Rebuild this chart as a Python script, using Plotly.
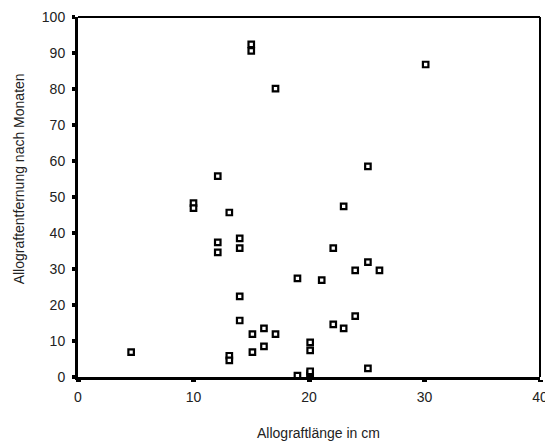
import plotly.graph_objects as go

# Allograft length (cm)
laenge = [4.6, 10.0, 10.0, 12.1, 12.1, 12.1, 13.1, 13.1, 13.1, 14.0, 14.0, 14.0, 14.0,
          15.0, 15.0, 15.1, 15.1, 16.1, 16.1, 17.1, 17.1, 19.0, 19.0,
          20.1, 20.1, 20.1, 20.1, 20.1, 21.1, 22.1, 22.1, 23.0, 23.0,
          24.0, 24.0, 25.1, 25.1, 25.1, 26.1, 30.1]
# Allograft removal after months
entfernung = [6.9, 48.3, 46.9, 55.8, 37.4, 34.6, 45.7, 5.9, 4.6, 38.5, 35.8, 22.4, 15.7,
              92.4, 90.6, 11.9, 6.9, 13.5, 8.5, 80.1, 11.9, 27.4, 0.4,
              9.6, 7.4, 0.4, 1.0, 1.6, 26.9, 35.8, 14.6, 47.4, 13.5,
              29.6, 16.9, 58.5, 31.9, 2.4, 29.6, 86.8]

x_ticks = [0, 10, 20, 30, 40]
y_ticks = [0, 10, 20, 30, 40, 50, 60, 70, 80, 90, 100]

FONT = "Liberation Sans, Arial, sans-serif"

fig = go.Figure(go.Scatter(
    x=laenge, y=entfernung, mode="markers",
    marker=dict(symbol="square", size=5.5, color="white",
                line=dict(color="black", width=2.2)),
    cliponaxis=False, showlegend=False,
))

fig.update_layout(
    width=545, height=443,
    margin=dict(l=78, r=5, t=17, b=66, autoexpand=False),
    paper_bgcolor="white", plot_bgcolor="white",
    font=dict(family=FONT, size=14, color="#222"),
    xaxis=dict(range=[0, 40], tickvals=x_ticks, showgrid=False, zeroline=False,
               showline=True, linecolor="black", linewidth=3,
               ticks="outside", ticklen=2, tickwidth=5, tickcolor="black",
               ticklabelstandoff=3, ticklabeloverflow="allow", automargin=False),
    yaxis=dict(range=[0, 100], tickvals=y_ticks, showgrid=False, zeroline=False,
               showline=True, linecolor="black", linewidth=3,
               ticks="outside", ticklen=3, tickwidth=4, tickcolor="black",
               ticklabelstandoff=4, automargin=False),
    shapes=[
        dict(type="line", xref="paper", yref="paper", x0=0, x1=1, y0=1, y1=1,
             line=dict(color="black", width=2)),
        dict(type="line", xref="paper", yref="paper", x0=1, x1=1, y0=0, y1=1,
             line=dict(color="black", width=2)),
    ],
    annotations=[
        dict(text="Allograftlänge in cm", xref="paper", yref="paper",
             x=0.52, y=-0.155, xanchor="center", yanchor="middle",
             showarrow=False, font=dict(size=14, color="#222")),
        dict(text="Allograftentfernung nach Monaten", xref="paper", yref="paper",
             x=-0.127, y=0.55, xanchor="center", yanchor="middle", textangle=-90,
             showarrow=False, font=dict(size=14, color="#222")),
    ],
)

fig.write_html("out.html")
